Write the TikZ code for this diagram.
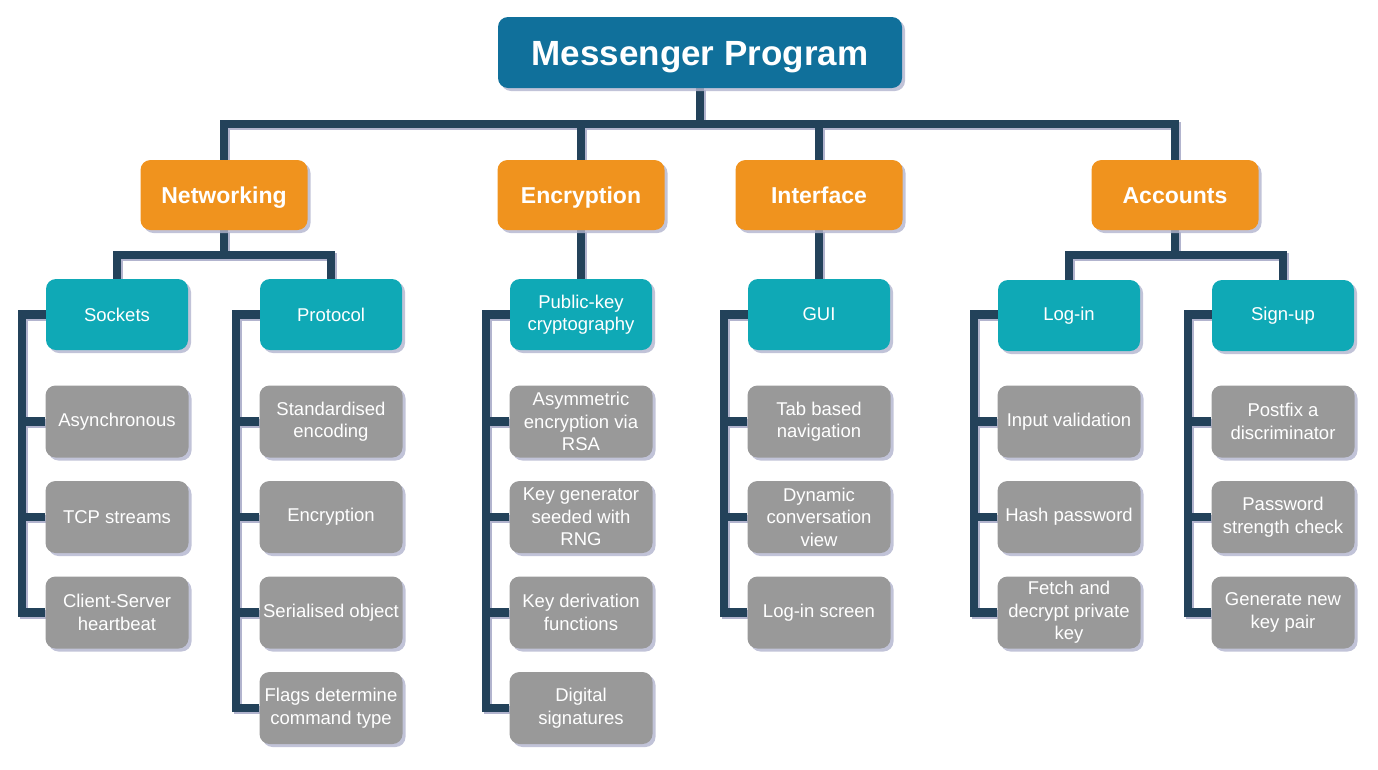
\documentclass[tikz,border=0pt]{standalone}
\usepackage{fontspec}
\setmainfont{Liberation Sans}
\usetikzlibrary{shadows,backgrounds}

\definecolor{topblue}{RGB}{16,112,155}
\definecolor{orng}{RGB}{240,147,30}
\definecolor{tealc}{RGB}{15,169,182}
\definecolor{greyc}{RGB}{153,153,153}
\definecolor{navy}{RGB}{35,66,90}
\definecolor{shadec}{RGB}{178,180,206}

\tikzset{
  box/.style={rounded corners=10pt, text=white, align=center, inner sep=0pt,
    drop shadow={shadow xshift=3pt, shadow yshift=-3pt, fill=shadec, opacity=0.8}},
  rootbox/.style={box, fill=topblue, minimum width=404pt, minimum height=71pt,
    font=\fontsize{35}{40}\selectfont\bfseries, text height=25pt, text depth=0pt},
  areabox/.style={box, fill=orng, minimum width=167pt, minimum height=70pt,
    font=\fontsize{23}{27}\selectfont\bfseries, text height=16.5pt, text depth=0pt},
  partbox/.style={box, fill=tealc, minimum width=142pt, minimum height=71pt,
    font=\fontsize{18.5}{22.5}\selectfont},
  leaf/.style={box, fill=greyc, minimum width=143pt, minimum height=72pt,
    font=\fontsize{18.5}{22.5}\selectfont},
  link/.style={draw=navy, line width=8.5pt},
  linkshade/.style={draw=shadec, line width=8.5pt, transform canvas={xshift=2pt,yshift=-2pt}},
}

\begin{document}
\begin{tikzpicture}[x=1pt,y=-1pt]
\useasboundingbox (0,0) rectangle (1378,769);

\node[rootbox] (top) at (700,52.5) {Messenger Program};

\node[areabox] (net) at (224,195) {Networking};
\node[areabox] (enc) at (581,195) {Encryption};
\node[areabox] (intf) at (819,195) {Interface};
\node[areabox] (acc) at (1175,195) {Accounts};

\node[partbox] (sock) at (117,314.5) {Sockets};
\node[partbox] (prot) at (331,314.5) {Protocol};
\node[partbox] (pkc) at (581,314.5) {Public-key\\cryptography};
\node[partbox] (gui) at (819,314.5) {GUI};
\node[partbox] (login) at (1069,315.5) {Log-in};
\node[partbox] (signup) at (1283,315.5) {Sign-up};

\foreach \t [count=\i] in {Asynchronous, TCP streams, {Client-Server\\heartbeat}}
	\node[leaf] (sock\i) at (117,{421.5+95.5*(\i-1)}) {\t};
\foreach \t [count=\i] in {{Standardised\\encoding}, Encryption, Serialised object, {Flags determine\\command type}}
	\node[leaf] (prot\i) at (331,{421.5+95.5*(\i-1)}) {\t};
\foreach \t [count=\i] in {{Asymmetric\\encryption via\\RSA}, {Key generator\\seeded with\\RNG}, {Key derivation\\functions}, {Digital\\signatures}}
	\node[leaf] (pkc\i) at (581,{421.5+95.5*(\i-1)}) {\t};
\foreach \t [count=\i] in {{Tab based\\navigation}, {Dynamic\\conversation\\view}, Log-in screen}
	\node[leaf] (gui\i) at (819,{421.5+95.5*(\i-1)}) {\t};
\foreach \t [count=\i] in {Input validation, Hash password, {Fetch and\\decrypt private\\key}}
	\node[leaf] (login\i) at (1069,{421.5+95.5*(\i-1)}) {\t};
\foreach \t [count=\i] in {{Postfix a\\discriminator}, {Password\\strength check}, {Generate new\\key pair}}
	\node[leaf] (signup\i) at (1283,{421.5+95.5*(\i-1)}) {\t};

\coordinate (bus) at (700,124);
\coordinate (netbus) at (224,255);
\coordinate (accbus) at (1175,255);

\begin{scope}[on background layer]
\foreach \s in {linkshade,link}{
	\foreach \n in {net,enc,intf,acc}
		\draw[\s] (top.south) -- (bus) -| (\n.north);
	\foreach \n in {sock,prot}
		\draw[\s] (net.south) -- (netbus) -| (\n.north);
	\foreach \n in {login,signup}
		\draw[\s] (acc.south) -- (accbus) -| (\n.north);
	\draw[\s] (enc.south) -- (pkc.north);
	\draw[\s] (intf.south) -- (gui.north);

	\draw[\s] (sock.west) -- ++(-24,0) |- (sock3.west);
	\draw[\s] (prot.west) -- ++(-24,0) |- (prot4.west);
	\draw[\s] (pkc.west) -- ++(-24,0) |- (pkc4.west);
	\draw[\s] (gui.west) -- ++(-24,0) |- (gui3.west);
	\draw[\s] (login.west |- sock.west) -- ++(-24,0) |- (login3.west);
	\draw[\s] (signup.west |- sock.west) -- ++(-24,0) |- (signup3.west);
	\foreach \n in {sock1,sock2,prot1,prot2,prot3,pkc1,pkc2,pkc3,gui1,gui2,login1,login2,signup1,signup2}
		\draw[\s] (\n.west) -- ++(-24,0);
}
\end{scope}
\end{tikzpicture}
\end{document}
